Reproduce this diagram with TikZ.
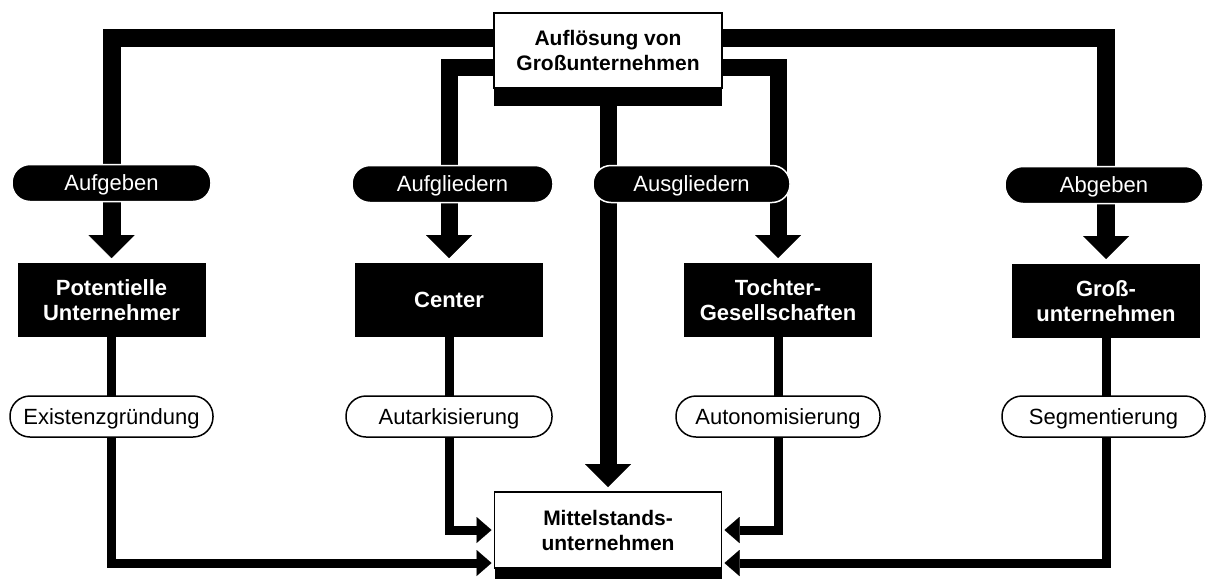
\documentclass[tikz,border=0pt]{standalone}
\usepackage{fontspec}
\setmainfont{Liberation Sans}
\usetikzlibrary{arrows.meta,backgrounds}
\begin{document}
\begin{tikzpicture}[x=1pt,y=-1pt,
  every node/.style={inner sep=0pt, outer sep=0pt},
  whitebox/.style={draw=black, line width=1.5pt, fill=white, minimum width=228pt, minimum height=75pt, align=center, font=\fontsize{21}{25}\selectfont\bfseries},
  blackbox/.style={fill=black, text=white, minimum width=188pt, minimum height=74pt, align=center, font=\fontsize{22}{25}\selectfont\bfseries},
  blackpill/.style={fill=black, draw=white, line width=1.5pt, text=white, rounded corners=18pt, minimum height=37pt, text height=15.5pt, text depth=0pt, font=\fontsize{22}{25}\selectfont},
  whitepill/.style={fill=white, draw=black, line width=1.5pt, rounded corners=20pt, minimum height=41pt, text height=15.5pt, text depth=0pt, font=\fontsize{22}{25}\selectfont},
  thickline/.style={line width=18pt},
  medline/.style={line width=17pt},
  thinline/.style={line width=9pt},
  bigtip/.style={-{Triangle[width=46pt,length=23pt,line width=0.01pt]}, shorten >=5pt},
  smalltip/.style={-{Triangle[width=26pt,length=15pt,line width=0.01pt]}, shorten >=3pt},
]
\useasboundingbox (0,0) rectangle (1207,579);

\node[whitebox] (top) at (608,50.5) {Auflösung von\\Großunternehmen};
\fill (top.south west) rectangle ([yshift=-18pt]top.south east);
\node[whitebox, minimum width=227pt, minimum height=76pt] (mid) at (608,530) {Mittelstands-\\unternehmen};
\fill (mid.south west) rectangle ([yshift=-11pt]mid.south east);

\node[blackpill, minimum width=199pt] (aufgeben) at (111.5,183) {Aufgeben};
\node[blackpill, minimum width=201pt] (aufgliedern) at (452.5,184) {Aufgliedern};
\node[blackpill, minimum width=197pt] (ausgliedern) at (691.5,184) {Ausgliedern};
\node[blackpill, minimum width=198pt] (abgeben) at (1104,185) {Abgeben};

\node[blackbox] (pot) at (111.5,300) {Potentielle\\Unternehmer};
\node[blackbox] (centerbox) at (449,300) {Center};
\node[blackbox] (tochter) at (778,300) {Tochter-\\Gesellschaften};
\node[blackbox] (gross) at (1106,301) {Groß-\\unternehmen};

\node[whitepill, minimum width=203pt] (exist) at (111.5,416.5) {Existenzgründung};
\node[whitepill, minimum width=206pt] (autark) at (449,416.5) {Autarkisierung};
\node[whitepill, minimum width=204pt] (autonom) at (778,416.5) {Autonomisierung};
\node[whitepill, minimum width=203pt] (segm) at (1103.5,416.5) {Segmentierung};

\begin{pgfonlayer}{background}
\draw[thickline,bigtip] ([yshift=12.5pt]top.west) -| (pot.north);
\draw[thickline,bigtip] ([yshift=12.5pt]top.east) -| (gross.north);
\draw[medline,bigtip] ([yshift=-16.5pt]top.west) -| (centerbox.north);
\draw[medline,bigtip] ([yshift=-16.5pt]top.east) -| (tochter.north);
\draw[medline,bigtip] (top.south) -- (mid.north);
\draw[thinline,smalltip] (centerbox.south) |- (mid.west);
\draw[thinline,smalltip] (tochter.south) |- (mid.east);
\draw[thinline,smalltip] (pot.south) |- ([yshift=-33pt]mid.west);
\draw[thinline,smalltip] (gross.south) |- ([yshift=-33pt]mid.east);
\end{pgfonlayer}
\end{tikzpicture}
\end{document}
